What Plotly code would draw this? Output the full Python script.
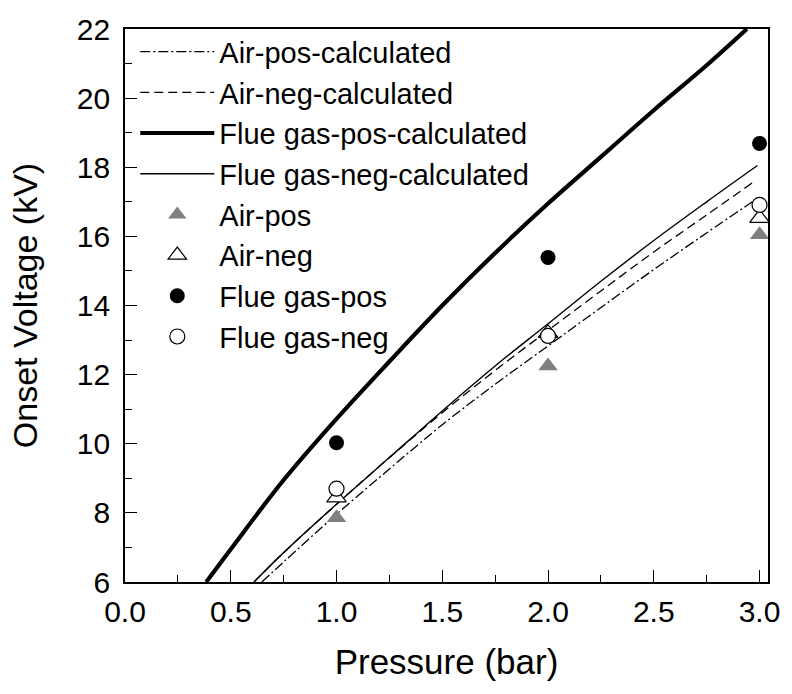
import plotly.graph_objects as go

# ---------------- data ----------------
pressure_meas = [1.0, 2.0, 3.0]
air_pos_meas = [7.86, 12.25, 16.05]
air_neg_meas = [8.44, 13.2, 16.53]
flue_pos_meas = [10.03, 15.39, 18.69]
flue_neg_meas = [8.70, 13.12, 16.91]

air_pos_calc_p = [0.647, 0.75, 1.0, 1.25, 1.5, 1.75, 2.0, 2.25, 2.5, 2.75, 2.966]
air_pos_calc_v = [6.0, 6.58, 7.96, 9.27, 10.55, 11.72, 12.83, 13.94, 15.04, 16.1, 17.0]

air_neg_calc_p = [0.61, 0.75, 1.0, 1.25, 1.5, 1.75, 2.0, 2.25, 2.5, 2.75, 2.966]
air_neg_calc_v = [6.0, 6.85, 8.25, 9.6, 10.9, 12.12, 13.28, 14.42, 15.55, 16.62, 17.55]

flue_pos_calc_p = [0.384, 0.5, 0.75, 1.0, 1.25, 1.5, 1.75, 2.0, 2.25, 2.5, 2.75, 2.94]
flue_pos_calc_v = [6.0, 6.95, 8.95, 10.72, 12.38, 14.0, 15.52, 16.95, 18.3, 19.65, 20.95, 22.0]

flue_neg_calc_p = [0.61, 0.75, 1.0, 1.25, 1.5, 1.75, 2.0, 2.25, 2.5, 2.75, 2.99]
flue_neg_calc_v = [6.0, 6.85, 8.25, 9.6, 10.95, 12.25, 13.47, 14.7, 15.88, 17.0, 18.05]

x_ticks = [0.0, 0.5, 1.0, 1.5, 2.0, 2.5, 3.0]
x_ticktext = ["0.0", "0.5", "1.0", "1.5", "2.0", "2.5", "3.0"]
y_ticks = [6, 8, 10, 12, 14, 16, 18, 20, 22]

FONT = "Liberation Sans, Arial, sans-serif"

fig = go.Figure()

fig.add_trace(go.Scatter(x=air_pos_calc_p, y=air_pos_calc_v, mode="lines",
                         name="Air-pos-calculated",
                         line=dict(color="black", width=1.3, dash="10px,3px,2px,3px",
                                   shape="spline", smoothing=1.0)))
fig.add_trace(go.Scatter(x=air_neg_calc_p, y=air_neg_calc_v, mode="lines",
                         name="Air-neg-calculated",
                         line=dict(color="black", width=1.3, dash="9px,5px",
                                   shape="spline", smoothing=1.0)))
fig.add_trace(go.Scatter(x=flue_pos_calc_p, y=flue_pos_calc_v, mode="lines",
                         name="Flue gas-pos-calculated",
                         line=dict(color="black", width=4.2, shape="spline", smoothing=1.0)))
fig.add_trace(go.Scatter(x=flue_neg_calc_p, y=flue_neg_calc_v, mode="lines",
                         name="Flue gas-neg-calculated",
                         line=dict(color="black", width=1.4, shape="spline", smoothing=1.0)))

fig.add_trace(go.Scatter(x=pressure_meas, y=air_pos_meas, mode="markers",
                         name="Air-pos",
                         marker=dict(symbol="triangle-up", size=17, color="#808080",
                                     line=dict(width=0))))
fig.add_trace(go.Scatter(x=pressure_meas, y=air_neg_meas, mode="markers",
                         name="Air-neg",
                         marker=dict(symbol="triangle-up", size=17, color="white",
                                     line=dict(width=1.2, color="black"))))
fig.add_trace(go.Scatter(x=pressure_meas, y=flue_pos_meas, mode="markers",
                         name="Flue gas-pos",
                         marker=dict(symbol="circle", size=15, color="black",
                                     line=dict(width=0))))
fig.add_trace(go.Scatter(x=pressure_meas, y=flue_neg_meas, mode="markers",
                         name="Flue gas-neg",
                         marker=dict(symbol="circle", size=15, color="white",
                                     line=dict(width=1.2, color="black"))))

fig.update_layout(
    width=792, height=694,
    margin=dict(l=124.5, r=17, t=27, b=112),
    paper_bgcolor="white", plot_bgcolor="white",
    font=dict(family=FONT, color="black"),
    showlegend=True,
    legend=dict(x=0.016, y=1.005, xanchor="left", yanchor="top",
                bgcolor="rgba(0,0,0,0)", borderwidth=0,
                font=dict(size=29, family=FONT, color="black"),
                itemwidth=74, tracegroupgap=0),
    xaxis=dict(range=[0, 3.04], tickmode="array", tickvals=x_ticks, ticktext=x_ticktext,
               ticks="inside", ticklen=12, tickwidth=1.3, tickcolor="black",
               minor=dict(dtick=0.25, ticks="inside", ticklen=7, tickwidth=1.3, tickcolor="black"),
               showline=True, linecolor="black", linewidth=1.8, mirror=True,
               showgrid=False, zeroline=False, ticklabelstandoff=2,
               tickfont=dict(size=30, family=FONT, color="black"),
               title=dict(text="Pressure (bar)", font=dict(size=35, family=FONT, color="black"),
                          standoff=23)),
    yaxis=dict(range=[6, 22], tickmode="array", tickvals=y_ticks,
               ticks="inside", ticklen=12, tickwidth=1.3, tickcolor="black",
               minor=dict(dtick=1, ticks="inside", ticklen=7, tickwidth=1.3, tickcolor="black"),
               showline=True, linecolor="black", linewidth=1.8, mirror=True,
               showgrid=False, zeroline=False, ticklabelstandoff=7,
               tickfont=dict(size=30, family=FONT, color="black"),
               title=dict(text="Onset Voltage (kV)", font=dict(size=34, family=FONT, color="black"),
                          standoff=29)),
)

fig.write_html("out.html")
